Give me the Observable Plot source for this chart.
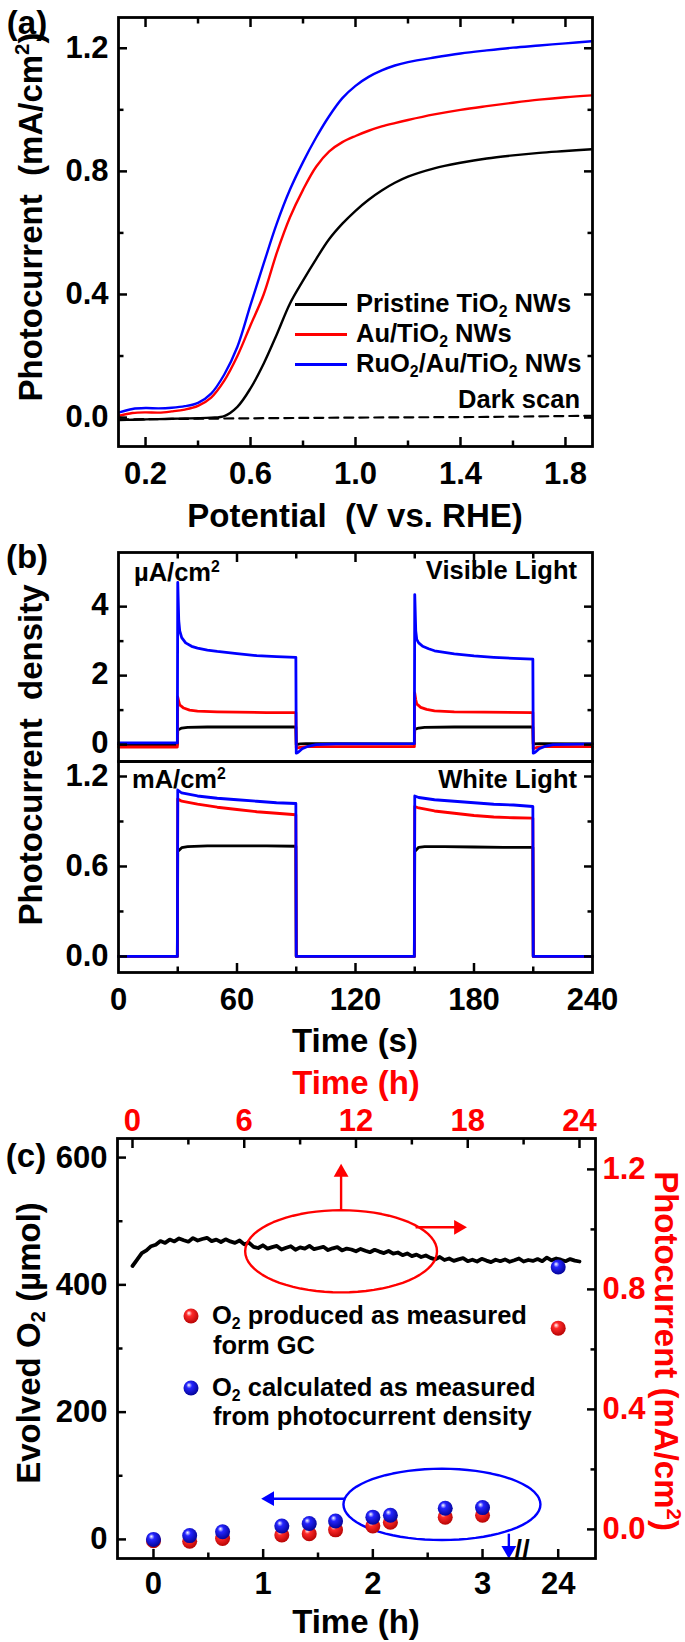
<!DOCTYPE html>
<html><head><meta charset="utf-8">
<script src="https://cdn.jsdelivr.net/npm/d3@7"></script>
<script src="https://cdn.jsdelivr.net/npm/@observablehq/plot@0.6"></script>
<style>
body{margin:0;background:#fff;}
#root{position:relative;width:685px;height:1642px;overflow:hidden;font-family:"Liberation Sans",Arial,sans-serif;font-weight:bold;color:#000;background:#fff;}
.abs{position:absolute;white-space:nowrap;line-height:1;}
.plot{position:absolute;left:0;}
sub{font-size:0.62em;vertical-align:-0.28em;line-height:0;}
sup{font-size:0.62em;vertical-align:0.6em;line-height:0;}
.c{transform:translate(-50%,-50%);}
.rl{transform:translate(-50%,-50%) rotate(-90deg);}
.rr{transform:translate(-50%,-50%) rotate(90deg);}
.vm{transform:translateY(-50%);}
.vr{transform:translate(-100%,-50%);}
.t31{font-size:33px;}
.t23{font-size:25.5px;}
</style></head>
<body>
<svg width="0" height="0" style="position:absolute"><defs>
<radialGradient id="ballRed" cx="0.45" cy="0.4" r="0.65" fx="0.35" fy="0.3"><stop offset="0" stop-color="#ffffff"/><stop offset="0.3" stop-color="#ff2a2a"/><stop offset="1" stop-color="#b00000"/></radialGradient>
<radialGradient id="ballBlue" cx="0.45" cy="0.4" r="0.65" fx="0.35" fy="0.3"><stop offset="0" stop-color="#ffffff"/><stop offset="0.3" stop-color="#2525ff"/><stop offset="1" stop-color="#00008c"/></radialGradient>
</defs></svg>
<div id="root"></div>
<script>
// ================= DATA =================
// (a) LSV curves
const potential = [0.1,0.15,0.2,0.25,0.3,0.35,0.4,0.45,0.5,0.55,0.6,0.65,0.7,0.75,0.8,0.85,0.9,0.95,1.0,1.05,1.1,1.15,1.2,1.3,1.4,1.5,1.6,1.7,1.8,1.9];
const jPristine = [-0.008,-0.007,-0.006,-0.005,-0.004,-0.003,-0.002,0.0,0.005,0.035,0.095,0.175,0.27,0.37,0.445,0.515,0.58,0.63,0.672,0.708,0.738,0.763,0.783,0.81,0.828,0.842,0.852,0.86,0.866,0.872];
const jAu = [0.006,0.015,0.017,0.016,0.02,0.026,0.038,0.065,0.12,0.2,0.3,0.4,0.535,0.65,0.74,0.815,0.865,0.895,0.915,0.932,0.946,0.957,0.967,0.985,1.0,1.012,1.023,1.033,1.041,1.047];
const jRuO2 = [0.017,0.028,0.031,0.03,0.032,0.037,0.048,0.078,0.14,0.23,0.366,0.5,0.63,0.74,0.83,0.91,0.98,1.038,1.078,1.107,1.128,1.144,1.155,1.17,1.183,1.193,1.202,1.209,1.216,1.223];
const darkPotential = [0.1,0.5,1.0,1.5,1.9];
const jDark = [-0.006,-0.003,0.0,0.002,0.006];
const seriesColors = ["#000000","#ff0000","#0000ff"];

// (b) chopped-light transients, [time s, value]
const visPristine = [[0,0.0],[29.8,0.0],[30,0.42],[32,0.48],[35,0.5],[45,0.51],[60,0.51],[89.8,0.51],[90,0.0],[92,0.02],[95,0.03],[100,0.03],[149.8,0.02],[150,0.44],[152,0.48],[155,0.5],[170,0.51],[209.8,0.51],[210,0.02],[213,0.03],[240,0.02]];
const visAu = [[0,-0.07],[29.8,-0.07],[30,1.38],[30.5,1.25],[31,1.15],[33,1.06],[36,1.0],[40,0.97],[50,0.95],[60,0.94],[75,0.93],[89.8,0.93],[90,-0.1],[92,-0.08],[95,-0.06],[100,-0.06],[149.8,-0.06],[150,1.5],[150.5,1.3],[151,1.18],[153,1.08],[156,1.02],[160,0.98],[170,0.95],[185,0.94],[209.8,0.93],[210,-0.12],[212,-0.08],[216,-0.06],[240,-0.06]];
const visRuO2 = [[0,0.05],[29.8,0.05],[30,4.7],[30.5,3.6],[31,3.3],[32,3.1],[34,2.95],[37,2.85],[40,2.8],[45,2.74],[50,2.7],[60,2.64],[70,2.58],[80,2.55],[89.8,2.53],[90,-0.25],[91,-0.22],[93,-0.12],[96,-0.05],[100,0.0],[110,0.02],[149.8,0.03],[150,4.35],[150.5,3.3],[151,3.05],[152,2.95],[154,2.85],[157,2.78],[160,2.72],[170,2.63],[180,2.57],[190,2.53],[200,2.5],[209.8,2.48],[210,-0.25],[211,-0.22],[213,-0.12],[216,-0.05],[220,0.0],[240,0.02]];
const whitePristine = [[0,0],[29.8,0],[30,0.70],[32,0.725],[35,0.732],[45,0.737],[60,0.738],[75,0.737],[89.8,0.735],[90,0],[149.8,0],[150,0.70],[152,0.728],[155,0.732],[165,0.732],[180,0.73],[195,0.728],[209.8,0.727],[210,0],[240,0]];
const whiteAu = [[0,0],[29.8,0],[30,1.05],[32,1.035],[40,1.015],[50,0.995],[60,0.98],[70,0.965],[80,0.955],[89.8,0.945],[90,0],[149.8,0],[150,1.0],[152,0.99],[160,0.97],[170,0.955],[180,0.94],[190,0.93],[200,0.925],[209.8,0.922],[210,0],[240,0]];
const whiteRuO2 = [[0,0],[29.8,0],[30,1.11],[32,1.09],[40,1.07],[50,1.055],[60,1.045],[70,1.035],[80,1.025],[89.8,1.02],[90,0],[149.8,0],[150,1.07],[152,1.06],[160,1.045],[170,1.035],[180,1.025],[190,1.015],[200,1.01],[209.8,1.0],[210,0],[240,0]];

// (c) O2 evolution (bottom/left axes) and photocurrent (top/right axes)
const gcTime = [0,0.33,0.63,1.17,1.42,1.66,2.0,2.16,2.66,3.0,24];
const o2GC = [-2,-3,1.5,7,9,15,21,27,35,38,332];
const o2Calc = [0,6,12,21,25,29,35,38,49,50,428];
const photoTime = [0,0.25,0.5,0.75,1,1.25,1.5,1.75,2,2.25,2.5,2.75,3,3.25,3.5,3.75,4,4.25,4.5,4.75,5,5.25,5.5,5.75,6,6.25,6.5,6.75,7,7.25,7.5,7.75,8,8.25,8.5,8.75,9,9.25,9.5,9.75,10,10.25,10.5,10.75,11,11.25,11.5,11.75,12,12.25,12.5,12.75,13,13.25,13.5,13.75,14,14.25,14.5,14.75,15,15.25,15.5,15.75,16,16.25,16.5,16.75,17,17.25,17.5,17.75,18,18.25,18.5,18.75,19,19.25,19.5,19.75,20,20.25,20.5,20.75,21,21.25,21.5,21.75,22,22.25,22.5,22.75,23,23.25,23.5,23.75,24];
const photoJ = [0.878,0.899,0.921,0.930,0.944,0.949,0.961,0.955,0.966,0.960,
  0.970,0.964,0.959,0.971,0.963,0.968,0.972,0.961,0.966,0.958,
  0.967,0.960,0.955,0.963,0.950,0.956,0.942,0.938,0.947,0.936,
  0.941,0.945,0.933,0.939,0.944,0.932,0.940,0.936,0.945,0.934,
  0.938,0.942,0.931,0.937,0.941,0.930,0.936,0.933,0.927,0.935,
  0.929,0.924,0.932,0.926,0.921,0.928,0.919,0.923,0.914,0.920,
  0.911,0.916,0.908,0.913,0.905,0.900,0.908,0.898,0.903,0.895,
  0.900,0.904,0.894,0.899,0.893,0.902,0.896,0.891,0.899,0.894,
  0.900,0.892,0.897,0.903,0.893,0.898,0.895,0.901,0.894,0.906,
  0.897,0.903,0.899,0.894,0.901,0.896,0.893];

// tick values / labels
const aXMajor=[0.2,0.6,1.0,1.4,1.8], aXMinor=[0.4,0.8,1.2,1.6];
const aYMajor=[0,0.4,0.8,1.2], aYMinor=[0.2,0.6,1.0];
const bXMajor=[0,60,120,180,240], bXMinor=[30,90,150,210];
const bVisYMajor=[0,2,4], bVisYMinor=[1,3];
const bWhiteYMajor=[0,0.6,1.2], bWhiteYMinor=[0.3,0.9];
const cXMajorHours=[0,1,2,3,24], cXMinorHours=[0.5,1.5,2.5];
const cYMajor=[0,200,400,600], cYMinor=[100,300,500];
const cTopMajor=[0,6,12,18,24], cTopMinor=[3,9,15,21];
const cRightMajor=[0,0.4,0.8,1.2], cRightMinor=[0.2,0.6,1.0];
const cBreakHours=[3.36];
// broken bottom axis: 24 h is drawn at axis position 3.69
const BREAK_POS = 3.69;
const pos = t => (t > 3.5 ? BREAK_POS : t);

// annotation shapes in data units
const redEllipse = {cx:11.2, cy:0.927, rx:5.15, ry:0.137};           // top/right axes
const redArrows = [{x1:11.2,y1:1.063,x2:11.2,y2:1.19},{x1:15.2,y1:1.007,x2:17.5,y2:1.007}];
const blueEllipse = {cx:2.63, cy:55, rx:0.898, ry:56};               // bottom/left axes
const blueArrows = [{x1:1.74,y1:64,x2:1.06,y2:64},{x1:3.24,y1:9,x2:3.24,y2:-17}];

// ================= HELPERS =================
const FONT = "'Liberation Sans', Arial, sans-serif";
const W = 685, ML = 118, MR = 93, TICKFS = 31;
const style = {fontFamily: FONT, overflow: "visible", background: "transparent", color: "black", fontWeight: "bold"};
const root = document.getElementById("root");

function place(svg, top) { svg.classList.add("plot"); svg.style.top = top + "px"; svg.style.position = "absolute"; root.appendChild(svg); }

// inward tick marks: standard axis ticks shifted inside the frame by their own length (no text)
function edgeTicks({xMajor=[], xMinor=[], yMajor=[], yMinor=[], xSides=["bottom","top"], ySides=["left","right"]}) {
  const m = [];
  const common = {tickFormat: () => "", label: null, stroke: "black", strokeWidth: 2.5, fill: "none", fontSize: 1};
  for (const [vals, len] of [[xMajor,9],[xMinor,5.5]]) for (const s of xSides) {
    if (!vals.length) continue;
    m.push(Plot.axisX(vals, {...common, anchor: s, tickSize: len, dy: s === "bottom" ? -len : len}));
  }
  for (const [vals, len] of [[yMajor,9],[yMinor,5.5]]) for (const s of ySides) {
    if (!vals.length) continue;
    m.push(Plot.axisY(vals, {...common, anchor: s, tickSize: len, dx: s === "left" ? len : -len}));
  }
  return m;
}
const lineOf = (xs, ys, color, w=2.4, extra={}) => Plot.line(xs.map((x,i)=>({x, y: ys[i]})), {x:"x", y:"y", stroke: color, strokeWidth: w, ...extra});
const pairLine = (pairs, color, w=2.8) => Plot.line(pairs, {x: d=>d[0], y: d=>d[1], stroke: color, strokeWidth: w});
function ellipsePts(e) { const pts=[]; for (let k=0;k<=72;k++){const a=k/72*2*Math.PI; pts.push({x:e.cx+e.rx*Math.cos(a), y:e.cy+e.ry*Math.sin(a)});} return pts; }
function arrowMarks(arrows, color) {
  const rot = a => a.x1 === a.x2 ? (a.y2 > a.y1 ? 0 : 180) : (a.x2 > a.x1 ? 90 : -90);
  return [
    Plot.link(arrows, {x1:"x1", y1:"y1", x2:"x2", y2:"y2", stroke: color, strokeWidth: 2.4}),
    Plot.dot(arrows, {x:"x2", y:"y2", symbol: "triangle", r: 5.5, fill: color, stroke: "none", rotate: rot})
  ];
}
function html(cls, left, top, inner, extraStyle="") { const d=document.createElement("div"); d.className="abs "+cls; d.style.left=left+"px"; d.style.top=top+"px"; d.innerHTML=inner; if(extraStyle) d.style.cssText+=extraStyle; root.appendChild(d); return d; }
const labX = (vals, anchor, fmt, pad, extra={}) => Plot.axisX(vals, {anchor, tickSize: 0, tickPadding: pad, tickFormat: fmt, label: null, fontSize: TICKFS, fontWeight: "bold", ...extra});
const labY = (vals, anchor, fmt, pad, extra={}) => Plot.axisY(vals, {anchor, tickSize: 0, tickPadding: pad, tickFormat: fmt, label: null, fontSize: TICKFS, fontWeight: "bold", ...extra});

// ================= PANEL (a) =================
{
  const H = 540, MT = 17, MB = 94;
  const p = Plot.plot({
    width: W, height: H, marginLeft: ML, marginRight: MR, marginTop: MT, marginBottom: MB, style,
    x: {domain: [0.097, 1.903]}, y: {domain: [-0.094, 1.30]},
    marks: [
      lineOf(darkPotential, jDark, "black", 2.2, {strokeDasharray: "9,6"}),
      lineOf(potential, jPristine, seriesColors[0], 2.4, {curve: "catmull-rom"}),
      lineOf(potential, jAu, seriesColors[1], 2.4, {curve: "catmull-rom"}),
      lineOf(potential, jRuO2, seriesColors[2], 2.4, {curve: "catmull-rom"}),
      ...edgeTicks({xMajor: aXMajor, xMinor: aXMinor, yMajor: aYMajor, yMinor: aYMinor}),
      labX(aXMajor, "bottom", d3.format(".1f"), 15),
      labY(aYMajor, "left", d3.format(".1f"), 10),
      Plot.frame({stroke: "black", strokeWidth: 2.8})
    ]
  });
  place(p, 0);
  html("c t31", 27, 22, "(a)");
  html("rl t31", 30, 217, "Photocurrent&nbsp; (mA/cm<sup>2</sup>)");
  html("c t31", 355, 515, "Potential&nbsp; (V vs. RHE)");
  const legY = [304, 334, 364];
  const legHtml = ["Pristine TiO<sub>2</sub> NWs", "Au/TiO<sub>2</sub> NWs", "RuO<sub>2</sub>/Au/TiO<sub>2</sub> NWs"];
  legY.forEach((y, i) => {
    const l = html("", 295, y - 1.5, ""); l.style.width = "52px"; l.style.height = "3px"; l.style.background = seriesColors[i];
    html("vm t23", 356, y, legHtml[i]);
  });
  html("vr t23", 580, 400, "Dark scan");
}

// ================= PANEL (b) =================
{
  const H1 = 221, MT1 = 12, MB1 = 0;
  const p1 = Plot.plot({
    width: W, height: H1, marginLeft: ML, marginRight: MR, marginTop: MT1, marginBottom: MB1, style,
    x: {domain: [0, 240]}, y: {domain: [-0.49, 5.57]},
    marks: [
      pairLine(visPristine, seriesColors[0]),
      pairLine(visAu, seriesColors[1]),
      pairLine(visRuO2, seriesColors[2]),
      ...edgeTicks({xMajor: bXMajor.slice(1,4), xMinor: bXMinor, yMajor: bVisYMajor, yMinor: bVisYMinor, xSides: ["top"]}),
      labY(bVisYMajor, "left", d3.format("d"), 10, {dy: -2}),
      Plot.frame({stroke: "black", strokeWidth: 2.8})
    ]
  });
  place(p1, 540);
  const H2 = 300, MT2 = 0, MB2 = 89;
  const p2 = Plot.plot({
    width: W, height: H2, marginLeft: ML, marginRight: MR, marginTop: MT2, marginBottom: MB2, style,
    x: {domain: [0, 240]}, y: {domain: [-0.107, 1.30]},
    marks: [
      pairLine(whitePristine, seriesColors[0]),
      pairLine(whiteAu, seriesColors[1]),
      pairLine(whiteRuO2, seriesColors[2]),
      ...edgeTicks({xMajor: bXMajor.slice(1,4), xMinor: bXMinor, yMajor: bWhiteYMajor, yMinor: bWhiteYMinor, xSides: ["bottom"]}),
      labX(bXMajor, "bottom", d3.format("d"), 15),
      labY(bWhiteYMajor, "left", d3.format(".1f"), 10),
      Plot.frame({stroke: "black", strokeWidth: 2.8})
    ]
  });
  place(p2, 761);
  html("c t31", 27, 556, "(b)");
  html("rl t31", 30, 755, "Photocurrent&nbsp; density");
  html("c t31", 355, 1040, "Time (s)");
  html("vm t23", 134, 573, "&micro;A/cm<sup>2</sup>");
  html("vr t23", 577, 571, "Visible Light");
  html("vm t23", 132, 780, "mA/cm<sup>2</sup>");
  html("vr t23", 577, 780, "White Light");
}

// ================= PANEL (c) =================
{
  const TOP = 1040, H = 602, MT = 98, MB = 84, MLc = 117, MRc = 90;
  const p2 = Plot.plot({
    width: W, height: H, marginLeft: MLc, marginRight: MRc, marginTop: MT, marginBottom: MB, style,
    x: {domain: [-0.805, 24.86]}, y: {domain: [-0.097, 1.303]},
    marks: [
      lineOf(photoTime, photoJ, "black", 3.8),
      Plot.line(ellipsePts(redEllipse), {x:"x", y:"y", stroke: "#ff0000", strokeWidth: 2.4}),
      ...arrowMarks(redArrows, "#ff0000"),
      ...edgeTicks({xMajor: cTopMajor, xMinor: cTopMinor, yMajor: cRightMajor, yMinor: cRightMinor, xSides: ["top"], ySides: ["right"]}),
      labX(cTopMajor, "top", d3.format("d"), 8, {color: "#ff0000"}),
      labY(cRightMajor, "right", d3.format(".1f"), 7, {color: "#ff0000"})
    ]
  });
  place(p2, TOP);
  const gcData = gcTime.map((t,i) => ({p: pos(t), v: o2GC[i]}));
  const calcData = gcTime.map((t,i) => ({p: pos(t), v: o2Calc[i]}));
  const p1 = Plot.plot({
    width: W, height: H, marginLeft: MLc, marginRight: MRc, marginTop: MT, marginBottom: MB, style,
    x: {domain: [-0.328, 4.03]}, y: {domain: [-30, 630]},
    marks: [
      Plot.line(ellipsePts(blueEllipse), {x:"x", y:"y", stroke: "#0000ff", strokeWidth: 2.4}),
      ...arrowMarks(blueArrows, "#0000ff"),
      Plot.dot(gcData, {x:"p", y:"v", r: 7.5, fill: "url(#ballRed)"}),
      Plot.dot(calcData, {x:"p", y:"v", r: 7.5, fill: "url(#ballBlue)"}),
      ...edgeTicks({xMajor: cXMajorHours.map(pos), xMinor: cXMinorHours, yMajor: cYMajor, yMinor: cYMinor, xSides: ["bottom"], ySides: ["left"]}),
      labX(cXMajorHours.map(pos), "bottom", (d,i) => String(cXMajorHours[i]), 13),
      labY(cYMajor, "left", d3.format("d"), 10),
      Plot.frame({stroke: "black", strokeWidth: 2.8}),
      Plot.text(cBreakHours, {x: d => d, frameAnchor: "bottom", text: () => "//", fontSize: 28, fontWeight: "bold", fill: "black"})
    ]
  });
  place(p1, TOP);
  html("c t31", 356, 1082, "Time (h)", "color:#ff0000;");
  html("c t31", 26, 1155, "(c)");
  html("rl t31", 28, 1343, "Evolved O<sub>2</sub> (&micro;mol)");
  html("rr t31", 666, 1351, "Photocurrent (mA/cm<sup>2</sup>)", "color:#ff0000;");
  html("c t31", 356, 1621, "Time (h)");
  const ball = (id) => `<svg width="17" height="17" style="display:block"><circle cx="8.5" cy="8.5" r="7.5" fill="url(#${id})"/></svg>`;
  html("c", 191, 1316, ball("ballRed"));
  html("c", 191, 1388, ball("ballBlue"));
  html("vm t23", 212, 1316, "O<sub>2</sub> produced as measured");
  html("vm t23", 213, 1346, "form GC");
  html("vm t23", 212, 1388, "O<sub>2</sub> calculated as measured");
  html("vm t23", 213, 1417, "from photocurrent density");
}
</script>
</body></html>
